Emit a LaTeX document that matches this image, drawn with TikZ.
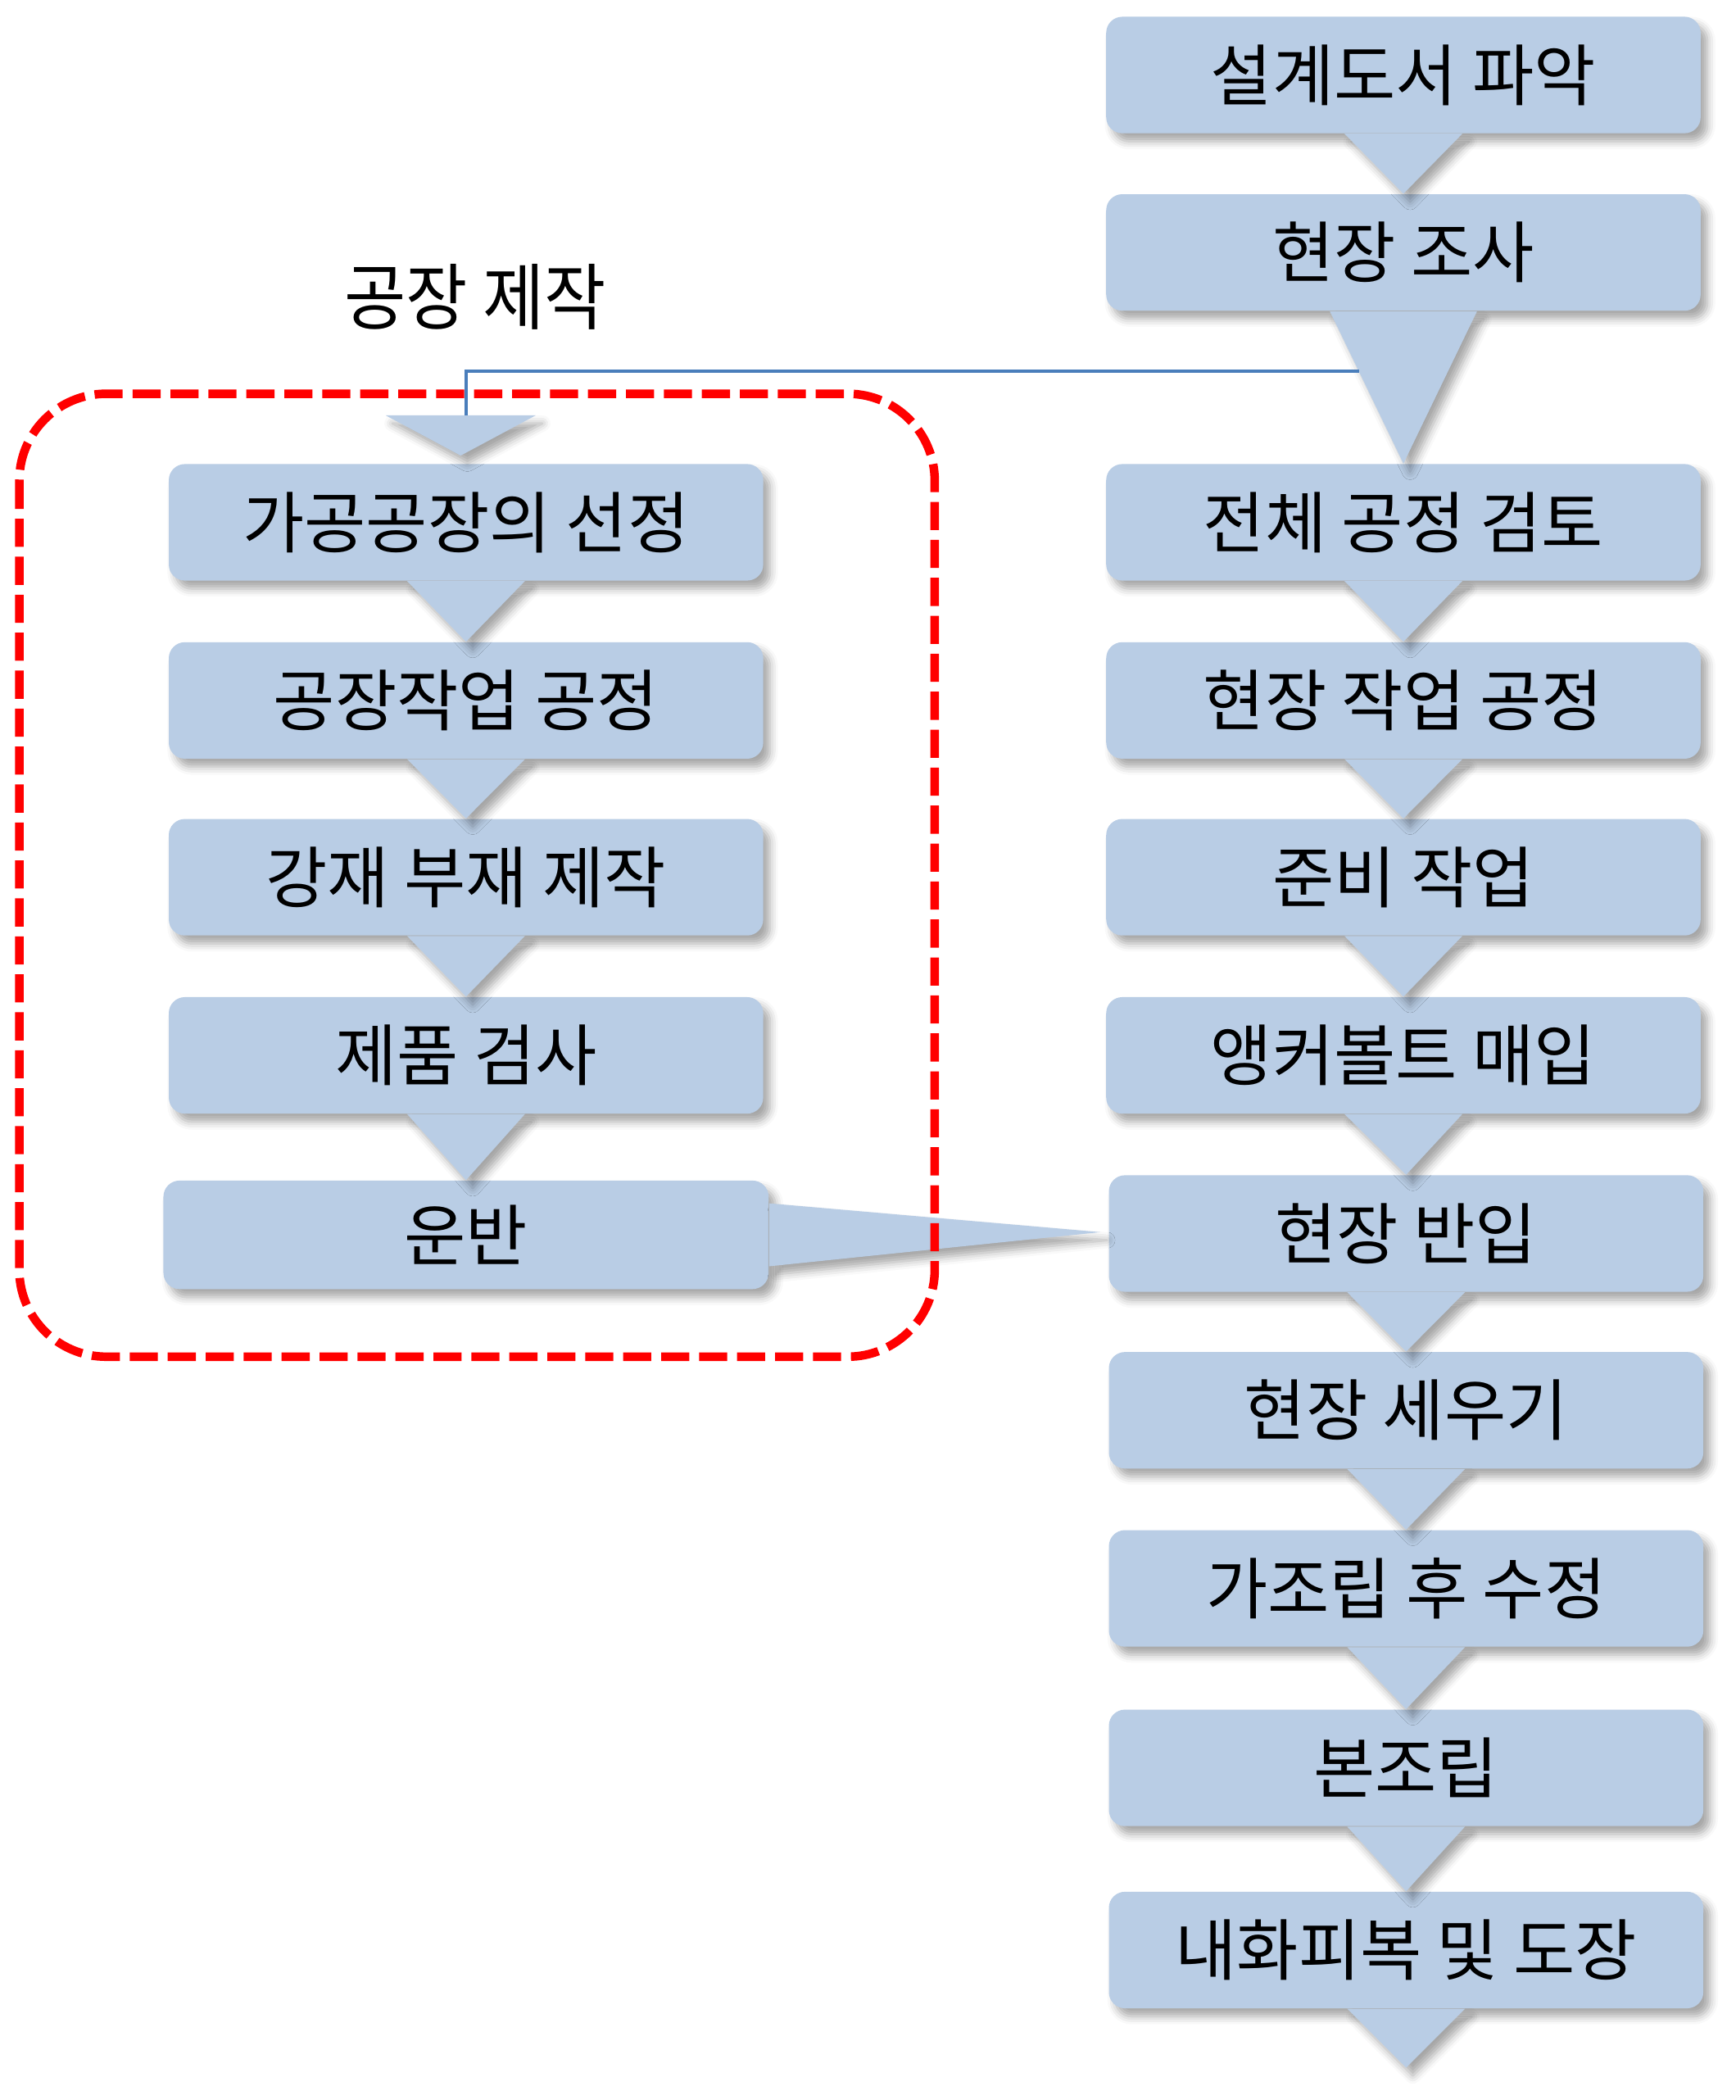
\documentclass[tikz,border=0pt]{standalone}
\usepackage{fontspec}
\setmainfont{Noto Sans CJK KR}
\usetikzlibrary{calc,shadows.blur}
\definecolor{boxblue}{HTML}{B9CDE5}
\definecolor{linkblue}{HTML}{4A7EBB}
\definecolor{framered}{HTML}{FF0000}
\tikzset{
  boxshadow/.style={blur shadow={shadow xshift=0.1cm,shadow yshift=-0.12cm,shadow blur radius=0.12cm,shadow opacity=35}},
  stepbox/.style={fill=boxblue,rounded corners=0.24cm,minimum width=8.88cm,minimum height=1.74cm,
    inner sep=0pt,font=\fontsize{28.5}{34}\selectfont,boxshadow},
  tipfill/.style={fill=boxblue,boxshadow},
  framebox/.style={draw=framered,line width=0.128cm,dash pattern=on 0.42cm off 0.147cm,rounded corners=1.3cm},
}
\begin{document}
\begin{tikzpicture}[x=0.02cm,y=-0.02cm]
    \useasboundingbox (0,0) rectangle (1296,1568);

    % 현장 공정 (오른쪽 열)
    \foreach \x/\y/\t [count=\i] in {1048/56/설계도서 파악, 1048/188.5/현장 조사, 1048/390/전체 공정 검토,
        1048/523/현장 작업 공정, 1048/655/준비 작업, 1048/788/앵커볼트 매입, 1050/921/현장 반입,
        1050/1053/현장 세우기, 1050/1186/가조립 후 수정, 1050/1320/본조립, 1050/1456/내화피복 및 도장}
    \node[stepbox] (s\i) at (\x,\y) {\t};

    % 공장 제작 (왼쪽 열)
    \foreach \y/\t [count=\i] in {390/가공공장의 선정, 523/공장작업 공정, 655/강재 부재 제작, 788/제품 검사}
    \node[stepbox] (f\i) at (348,\y) {\t};
    \node[stepbox,minimum width=9.04cm,minimum height=1.62cm] (f5) at (348,922) {운반};

    % 제목
    \node[font=\fontsize{28.5}{34}\selectfont,yscale=1.08] (title) at (355,222) {공장 제작};

    % 단계 사이 화살표
    \foreach \i [evaluate=\i as \j using int(\i+1)] in {1,3,4,...,10}
    \fill[tipfill] ($(s\i.south)+(-44,0)$) -- ($(s\i.south)+(44,0)$) -- (s\j.north) -- cycle;
    \fill[tipfill] ($(s2.south)+(-55,0)$) -- ($(s2.south)+(55,0)$) -- (s3.north) -- cycle;
    \fill[tipfill] ($(s11.south)+(-44,0)$) -- ($(s11.south)+(44,0)$) -- ($(s11.south)+(0,44)$) -- cycle;
    \foreach \i [evaluate=\i as \j using int(\i+1)] in {1,...,4}
    \fill[tipfill] ($(f\i.south)+(-44,0)$) -- ($(f\i.south)+(44,0)$) -- (f\j.north) -- cycle;
    \fill[tipfill] ($(f1.north)+(-60,-36)$) -- ($(f1.north)+(52,-36)$) -- ($(f1.north)+(-4,-6)$) -- cycle;
    \fill[tipfill] ($(f5.east)+(0,-23.5)$) -- ($(f5.east)+(0,23.5)$) -- ($(s7.west)+(-6,-1)$) -- cycle;

    % 점선 테두리
    \draw[framebox] (14.4,294) rectangle (698,1013);

    % 연결선
    \coordinate (split) at ($($(s2.south)+(-55,0)$)!0.395!(s3.north)$);
    \coordinate (ftin) at ($(f1.north)+(0,-36)$);
    \draw[linkblue,line width=0.05cm] (split) -| (ftin);
\end{tikzpicture}
\end{document}
